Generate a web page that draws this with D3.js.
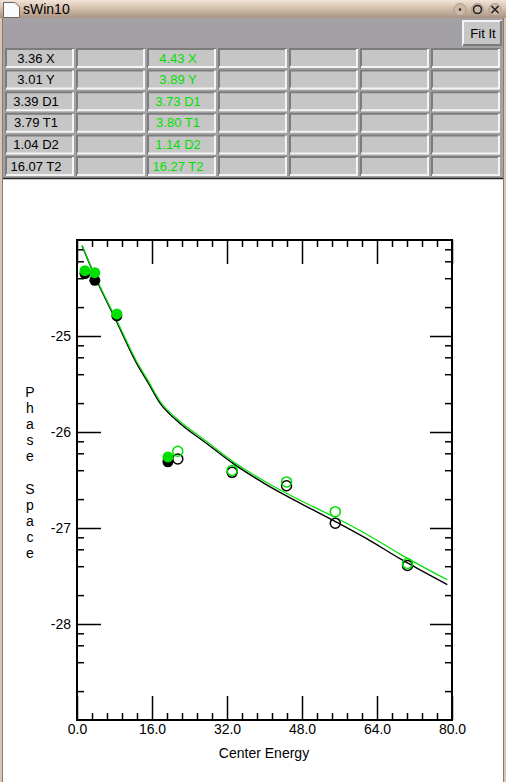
<!DOCTYPE html>
<html>
<head>
<meta charset="utf-8">
<script src="https://cdn.jsdelivr.net/npm/d3@7"></script>
<style>
  body { margin: 0; background: #fff; }
  svg { display: block; }
  text { font-family: "Liberation Sans", Arial, sans-serif; }
</style>
</head>
<body>
<div id="chart"></div>
<script>
// parameter table
const paramNames = ['X', 'Y', 'D1', 'T1', 'D2', 'T2'];
const fitBlack = [3.36, 3.01, 3.39, 3.79, 1.04, 16.07];
const fitGreen = [4.43, 3.89, 3.73, 3.80, 1.14, 16.27];

// measured points (log10 of phase space)
const pointEnergy = [1.7, 3.8, 8.5, 19.4, 21.5, 33.1, 44.7, 55.1, 70.5];
const pointFilled = [true, true, true, true, false, false, false, false, false];
const pointBlack = [-24.35, -24.42, -24.79, -26.31, -26.28, -26.42, -26.56, -26.95, -27.39];
const pointGreen = [-24.32, -24.34, -24.77, -26.26, -26.20, -26.40, -26.52, -26.83, -27.37];

// fitted curves
const curveEnergy = [1.07, 4.20, 8.46, 12.73, 15.22, 17.71, 21.26, 27.66, 33.35, 40.47, 47.57, 54.68, 61.80, 68.91, 79.0];
const curveBlack = [-24.06, -24.42, -24.85, -25.285, -25.49, -25.70, -25.88, -26.12, -26.33, -26.55, -26.74, -26.92, -27.11, -27.32, -27.59];
const curveGreen = [-24.055, -24.41, -24.835, -25.265, -25.47, -25.68, -25.86, -26.10, -26.31, -26.525, -26.71, -26.88, -27.065, -27.272, -27.54];

const xMajor = [0, 16, 32, 48, 64, 80];
const yDecades = [-29, -28, -27, -26, -25, -24];
const yLabelled = [-28, -27, -26, -25];

const W = 506, H = 782;
const GREEN = '#00e000';
const svg = d3.select('#chart').append('svg').attr('width', W).attr('height', H);

// ---- window chrome ----
const defs = svg.append('defs');
const tg = defs.append('linearGradient').attr('id', 'title').attr('x1', 0).attr('y1', 0).attr('x2', 0).attr('y2', 1);
tg.append('stop').attr('offset', '0%').attr('stop-color', '#f1e3d6');
tg.append('stop').attr('offset', '45%').attr('stop-color', '#d6c1ae');
tg.append('stop').attr('offset', '100%').attr('stop-color', '#a89282');

svg.append('rect').attr('x', 0).attr('y', 0).attr('width', W).attr('height', 18).attr('fill', 'url(#title)');
svg.append('rect').attr('x', 0).attr('y', 18).attr('width', 3).attr('height', H - 18).attr('fill', '#d8c5b4');
svg.append('rect').attr('x', 503).attr('y', 18).attr('width', 3).attr('height', H - 18).attr('fill', '#d8c5b4');
svg.append('line').attr('x1', 2.5).attr('x2', 2.5).attr('y1', 18).attr('y2', H).attr('stroke', '#8c7a6c');
svg.append('line').attr('x1', 503.5).attr('x2', 503.5).attr('y1', 18).attr('y2', H).attr('stroke', '#8c7a6c');

// title icon
svg.append('path').attr('d', 'M3.5,2.5 H15 L19.5,7 V17.5 H3.5 Z').attr('fill', '#fafafa').attr('stroke', '#6e6660');
svg.append('text').attr('x', 23).attr('y', 14).attr('font-size', 14).attr('fill', '#000').text('sWin10');

// title buttons
const btn = svg.append('g');
[460, 477.5, 495].forEach((cx, i) => {
  btn.append('circle').attr('cx', cx).attr('cy', 9.5).attr('r', 6).attr('fill', '#cdb9a8').attr('stroke', '#b09c8c');
  if (i === 0) btn.append('circle').attr('cx', cx).attr('cy', 9.5).attr('r', 1.3).attr('fill', '#222');
  if (i === 1) btn.append('circle').attr('cx', cx).attr('cy', 9.5).attr('r', 4).attr('fill', 'none').attr('stroke', '#222').attr('stroke-width', 1.6);
  if (i === 2) btn.append('path').attr('d', `M${cx - 3.5},6 L${cx + 3.5},13 M${cx + 3.5},6 L${cx - 3.5},13`).attr('stroke', '#222').attr('stroke-width', 1.6);
});

// gray panel + table area
svg.append('rect').attr('x', 3).attr('y', 18).attr('width', 500).attr('height', 160).attr('fill', '#a3a1a5');

function bevel(g, x, y, w, h, sunken) {
  const dark = '#7c7c7c', light = '#f4f4f4';
  g.append('rect').attr('x', x).attr('y', y).attr('width', w).attr('height', h).attr('fill', '#c6c6c6');
  g.append('path').attr('d', `M${x + 1},${y + h} V${y + 1} H${x + w}`)
    .attr('fill', 'none').attr('stroke', sunken ? dark : light).attr('stroke-width', 2);
  g.append('path').attr('d', `M${x + 1},${y + h - 1} H${x + w - 1} V${y + 1}`)
    .attr('fill', 'none').attr('stroke', sunken ? light : dark).attr('stroke-width', 2);
}

// Fit It button
const fitBtn = svg.append('g');
bevel(fitBtn, 462, 20, 40, 26, false);
fitBtn.append('text').attr('x', 483).attr('y', 38).attr('text-anchor', 'middle').attr('font-size', 13).text('Fit It');

// table
const cols = d3.range(7), rows = d3.range(6);
const cx = d3.scaleLinear().domain([0, 1]).range([5, 76]);
const cy = d3.scaleLinear().domain([0, 1]).range([48, 69.6]);
const table = svg.append('g');
rows.forEach(r => cols.forEach(c => {
  bevel(table, cx(c), cy(r), 69, 20, true);
}));
table.selectAll('text.a').data(rows).join('text')
  .attr('x', 36).attr('y', r => cy(r) + 10).attr('dy', '0.35em')
  .attr('text-anchor', 'middle').attr('font-size', 13).attr('fill', '#000')
  .text(r => fitBlack[r].toFixed(2) + ' ' + paramNames[r]);
table.selectAll('text.b').data(rows).join('text')
  .attr('x', cx(2) + 31).attr('y', r => cy(r) + 10).attr('dy', '0.35em')
  .attr('text-anchor', 'middle').attr('font-size', 13).attr('fill', GREEN)
  .text(r => fitGreen[r].toFixed(2) + ' ' + paramNames[r]);

svg.append('line').attr('x1', 3).attr('x2', 503).attr('y1', 178.5).attr('y2', 178.5).attr('stroke', '#222').attr('stroke-width', 1.3);

// ---- plot ----
const x = d3.scaleLinear().domain([0, 80]).range([77, 452]);
const y = d3.scaleLog().domain([1e-29, 1e-24]).range([720, 240]);
const pow = e => Math.pow(10, e);

const xMinor = d3.range(0, 80.01, 3.2).filter(v => xMajor.every(m => Math.abs(m - v) > 0.01));
const yMinor = y.ticks().filter(v => {
  const k = Math.round(v / pow(Math.floor(Math.log10(v) + 1e-9)));
  return [2, 4, 6, 8].includes(k);
});

const plot = svg.append('g');
function axisStyle(g) {
  g.select('.domain').remove();
  g.selectAll('.tick line').attr('stroke', '#000').attr('stroke-width', 1.5);
  g.selectAll('.tick text').attr('font-size', 14).attr('fill', '#000').attr('font-family', '"Liberation Sans", Arial, sans-serif');
}

// bottom
plot.append('g').attr('transform', 'translate(0,720)')
  .call(d3.axisBottom(x).tickValues(xMajor).tickSize(-24).tickPadding(4).tickFormat(d3.format('.1f'))).call(axisStyle);
plot.append('g').attr('transform', 'translate(0,720)')
  .call(d3.axisBottom(x).tickValues(xMinor).tickSize(-7).tickFormat('')).call(axisStyle);
// top
plot.append('g').attr('transform', 'translate(0,240)')
  .call(d3.axisTop(x).tickValues(xMajor).tickSize(-24).tickFormat('')).call(axisStyle);
plot.append('g').attr('transform', 'translate(0,240)')
  .call(d3.axisTop(x).tickValues(xMinor).tickSize(-7).tickFormat('')).call(axisStyle);
// left
plot.append('g').attr('transform', 'translate(77,0)')
  .call(d3.axisLeft(y).tickValues(yLabelled.map(pow)).tickSize(-24).tickPadding(6)
    .tickFormat(v => String(Math.round(Math.log10(v))))).call(axisStyle);
plot.append('g').attr('transform', 'translate(77,0)')
  .call(d3.axisLeft(y).tickValues(yMinor).tickSize(-7).tickFormat('')).call(axisStyle);
// right
plot.append('g').attr('transform', 'translate(452,0)')
  .call(d3.axisRight(y).tickValues(yLabelled.map(pow)).tickSize(-22).tickFormat('')).call(axisStyle);
plot.append('g').attr('transform', 'translate(452,0)')
  .call(d3.axisRight(y).tickValues(yMinor).tickSize(-7).tickFormat('')).call(axisStyle);

plot.append('rect').attr('x', 77).attr('y', 240).attr('width', 375).attr('height', 480)
  .attr('fill', 'none').attr('stroke', '#000').attr('stroke-width', 2);

// axis titles
plot.append('text').attr('x', 264).attr('y', 757.5).attr('text-anchor', 'middle').attr('font-size', 14).text('Center Energy');
const yTitle = 'Phase Space'.split('');
plot.append('g').selectAll('text').data(yTitle).join('text')
  .attr('x', 30).attr('y', (d, i) => 392 + i * 16.1).attr('dy', '0.35em')
  .attr('text-anchor', 'middle').attr('font-size', 14).text(d => d);

// curves
const line = d3.line().x(d => x(d[0])).y(d => y(pow(d[1]))).curve(d3.curveMonotoneX);
plot.append('path').datum(d3.zip(curveEnergy, curveBlack)).attr('d', line)
  .attr('fill', 'none').attr('stroke', '#000').attr('stroke-width', 1.4);
plot.append('path').datum(d3.zip(curveEnergy, curveGreen)).attr('d', line)
  .attr('fill', 'none').attr('stroke', GREEN).attr('stroke-width', 1.2);

// markers
function markers(vals, color) {
  plot.append('g').selectAll('circle').data(pointEnergy.map((e, i) => ({ e, v: vals[i], f: pointFilled[i] })))
    .join('circle')
    .attr('cx', d => x(d.e)).attr('cy', d => y(pow(d.v)))
    .attr('r', d => d.f ? 5.5 : 5)
    .attr('fill', d => d.f ? color : 'none')
    .attr('stroke', color).attr('stroke-width', d => d.f ? 0 : 1.5);
}
markers(pointBlack, '#000');
markers(pointGreen, GREEN);
</script>
</body>
</html>
